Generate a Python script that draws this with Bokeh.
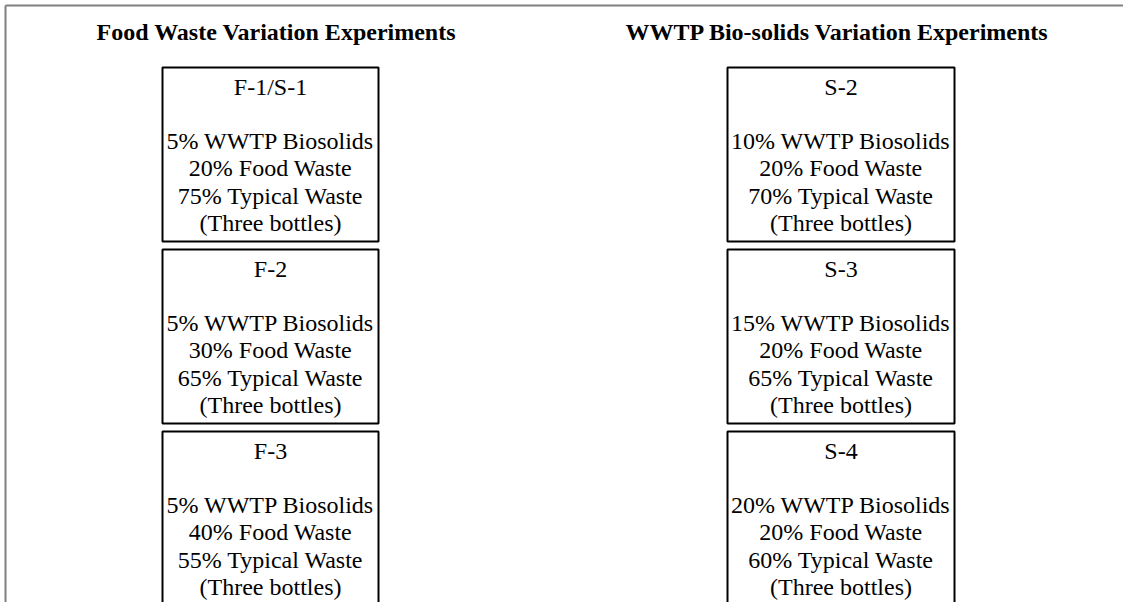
from bokeh.plotting import figure
from bokeh.models import Range1d
from bokeh.core.properties import value
from bokeh.embed import file_html
from bokeh.resources import INLINE

# ---- content ----
column_titles = ["Food Waste Variation Experiments", "WWTP Bio-solids Variation Experiments"]
left_ids = ["F-1/S-1", "F-2", "F-3"]
left_biosolids = [5, 5, 5]
left_food = [20, 30, 40]
left_typical = [75, 65, 55]
right_ids = ["S-2", "S-3", "S-4"]
right_biosolids = [10, 15, 20]
right_food = [20, 20, 20]
right_typical = [70, 65, 60]
bottles_note = "(Three bottles)"

# ---- layout (screen-pixel coordinates of the page) ----
W, H = 1123, 602
col_box_left = [162, 727]
col_box_right = [378, 954]
title_x = [276, 837]
title_y = 31
box_tops = [67, 249, 431]
box_h = 174
line_step = 27.3
first_base = 19

p = figure(width=W, height=H, output_backend="svg", toolbar_location=None,
           x_range=Range1d(0, W), y_range=Range1d(H, 0),
           min_border=0, outline_line_color=None)
p.axis.visible = False
p.xgrid.visible = False
p.ygrid.visible = False
p.background_fill_color = "white"
p.border_fill_color = "white"

# outer frame (top and left lines)
p.segment(x0=[5, 5], y0=[5, 5], x1=[W, 5], y1=[5, H],
          line_color="#808080", line_width=2)

# titles
p.text(x=title_x, y=[title_y, title_y], text=column_titles,
       text_font=value("Liberation Serif"), text_font_size="24px",
       text_font_style="bold", text_align="center", text_baseline="alphabetic",
       text_color="black")

cols = [
    (left_ids, left_biosolids, left_food, left_typical),
    (right_ids, right_biosolids, right_food, right_typical),
]

bx_l, bx_r, bx_t, bx_b = [], [], [], []
tx, ty, tt = [], [], []
for ci, (ids, bio, food, typ) in enumerate(cols):
    cx = (col_box_left[ci] + col_box_right[ci]) / 2
    for bi in range(len(ids)):
        top = box_tops[bi]
        bx_l.append(col_box_left[ci])
        bx_r.append(col_box_right[ci])
        bx_t.append(top)
        bx_b.append(top + box_h)
        lines = [
            (0, ids[bi]),
            (2, f"{bio[bi]}% WWTP Biosolids"),
            (3, f"{food[bi]}% Food Waste"),
            (4, f"{typ[bi]}% Typical Waste"),
            (5, bottles_note),
        ]
        for k, s in lines:
            tx.append(cx)
            ty.append(top + first_base + k * line_step)
            tt.append(s)

p.quad(left=bx_l, right=bx_r, top=bx_t, bottom=bx_b,
       fill_color=None, line_color="black", line_width=2)

p.text(x=tx, y=ty, text=tt,
       text_font=value("Liberation Serif"), text_font_size="24px",
       text_align="center", text_baseline="alphabetic", text_color="black")

open("out.html", "w").write(file_html(p, INLINE))
